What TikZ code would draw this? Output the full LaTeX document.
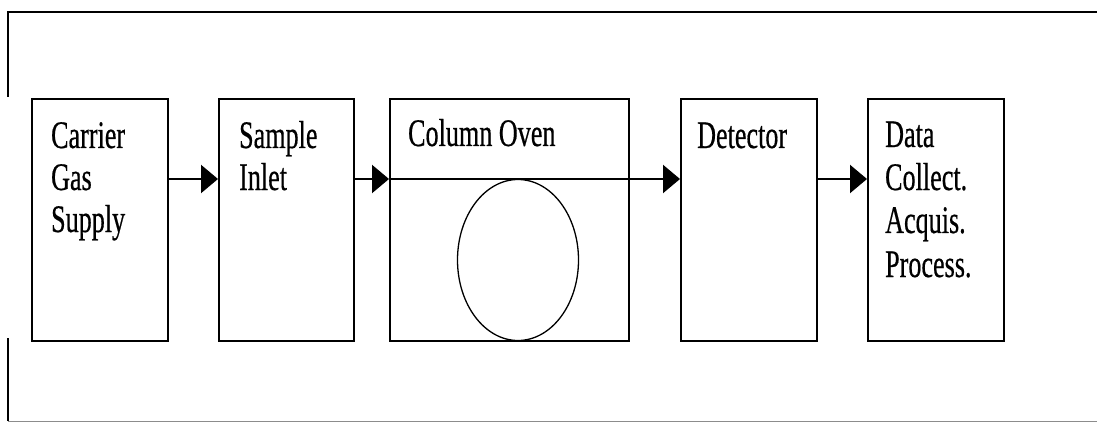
\documentclass[tikz,border=0pt]{standalone}
\usepackage{fontspec}
\setmainfont{Liberation Serif}
\newfontfamily\lblfont[FakeBold=0.6]{Liberation Serif}
\usetikzlibrary{arrows.meta,shapes.geometric}
\begin{document}
\begin{tikzpicture}[x=1pt,y=-1pt,
  blk/.style={draw=black,line width=2.2pt,rectangle,inner sep=0pt,anchor=north west},
  lbl/.style={anchor=base west,inner sep=0pt,font=\lblfont\fontsize{39}{43}\selectfont,xscale=0.67,transform shape,align=left},
  flow/.style={line width=2.2pt,-{Triangle[length=17pt,width=28pt]}},
  frame/.style={line width=2.2pt}]
\useasboundingbox (0,0) rectangle (1097,422);
% outer frame
\coordinate (ftl) at (8,12);
\coordinate (ftr) at (1097,12);
\coordinate (fa) at (8,97);
\coordinate (fb) at (8,338);
\coordinate (fbl) at (8,421);
\coordinate (fbr) at (1097,421);
\draw[frame] (fa) -- (ftl) -- (ftr);
\draw[frame] (fb) -- (fbl);
\draw[line width=1pt,draw=black!45] (fbl) -- (fbr);
% boxes
\node[blk,minimum width=136pt,minimum height=242pt] (b1) at (31,98) {};
\node[blk,minimum width=135pt,minimum height=242pt] (b2) at (218,98) {};
\node[blk,minimum width=239pt,minimum height=242pt,line width=1.7pt] (b3) at (389,98) {};
\node[blk,minimum width=136pt,minimum height=242pt] (b4) at (680,98) {};
\node[blk,minimum width=136pt,minimum height=242pt] (b5) at (867,98) {};
% column coil
\node[draw=black,line width=1.3pt,ellipse,minimum width=121pt,minimum height=161pt,inner sep=0pt] (coil) at (518,260) {};
% labels
\node[lbl] (t1a) at (51,148) {Carrier};
\node[lbl] (t1b) at (51,190) {Gas};
\node[lbl] (t1c) at (51,232) {Supply};
\node[lbl] (t2a) at (239,148) {Sample};
\node[lbl] (t2b) at (239,190) {Inlet};
\node[lbl] (t3) at (408,146) {Column Oven};
\node[lbl] (t4) at (697,148) {Detector};
\node[lbl] (t5a) at (885,147) {Data};
\node[lbl] (t5b) at (885,190) {Collect.};
\node[lbl] (t5c) at (885,233) {Acquis.};
\node[lbl] (t5d) at (885,277) {Process.};
% flow
\coordinate (ly) at (0,179);
\draw[flow] (b1.east |- ly) -- (b2.west |- ly);
\draw[flow] (b2.east |- ly) -- (b3.west |- ly);
\draw[flow] (b3.west |- ly) -- (b4.west |- ly);
\draw[flow] (b4.east |- ly) -- (b5.west |- ly);
\end{tikzpicture}
\end{document}
